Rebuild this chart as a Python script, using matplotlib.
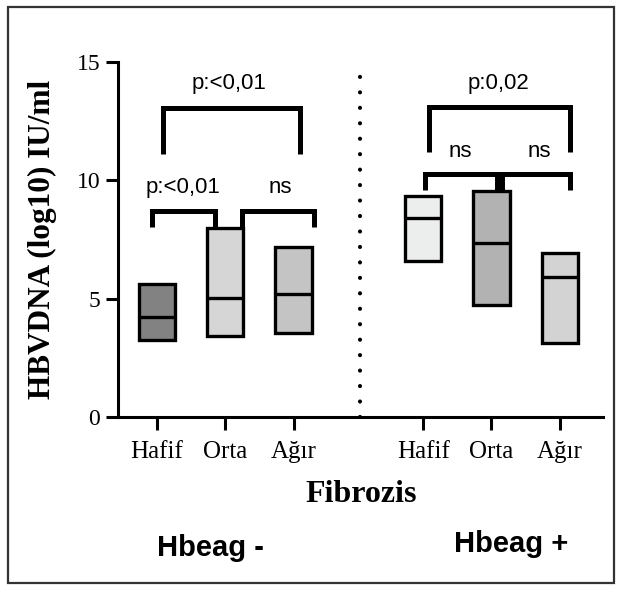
import matplotlib
matplotlib.use("Agg")
import matplotlib.pyplot as plt
from matplotlib.patches import Rectangle

# group positions on x axis (two panels separated by dotted line)
positions = [0, 1, 2, 3.9, 4.9, 5.9]
labels = ["Hafif", "Orta", "Ağır", "Hafif", "Orta", "Ağır"]
low = [3.26, 3.43, 3.56, 6.61, 4.75, 3.14]
median = [4.24, 5.04, 5.21, 8.43, 7.37, 5.93]
high = [5.64, 7.97, 7.2, 9.32, 9.53, 6.95]
fills = ["#828282", "#d6d6d6", "#c4c4c4", "#eceeed", "#b2b2b2", "#d3d3d3"]

# brackets: (x_left, x_right, y_bar, y_leg, text, text_x, text_y)
brackets = [
    (0.09, 2.1, 13.05, 11.1, "p:<0,01", 1.05, 14.1),
    (-0.07, 0.85, 8.69, 8.05, "p:<0,01", 0.38, 9.7),
    (1.25, 2.3, 8.69, 8.05, "ns", 1.8, 9.7),
    (3.98, 6.05, 13.1, 11.2, "p:0,02", 5.0, 14.1),
    (3.93, 4.98, 10.25, 9.6, "ns", 4.45, 11.2),
    (5.06, 6.05, 10.25, 9.6, "ns", 5.6, 11.2),
]

fig = plt.figure(figsize=(6.22, 5.91), dpi=100)
ax = fig.add_axes([0.19, 0.2944, 0.779, 0.6006])

ax.bar(positions, [h - l for h, l in zip(high, low)], bottom=low, width=0.53,
       color=fills, edgecolor="black", linewidth=2.4, zorder=3)
for p, m in zip(positions, median):
    ax.plot([p - 0.265, p + 0.265], [m, m], color="black", lw=2.4, zorder=4,
            solid_capstyle="butt")

for xl, xr, yb, yl, txt, tx, ty in brackets:
    ax.plot([xl, xl, xr, xr], [yl, yb, yb, yl], color="black", lw=3.6,
            solid_joinstyle="miter", solid_capstyle="butt", zorder=5)
    ax.text(tx, ty, txt, ha="center", va="center", fontsize=16,
            family="Liberation Sans")

# dotted separator
ax.plot([2.97, 2.97], [0, 15], color="black", lw=3, linestyle=(0, (0.01, 3.7)),
        dash_capstyle="round", zorder=2)

ax.set_xlim(-0.57, 6.53)
ax.set_ylim(0, 15)
ax.set_yticks([0, 5, 10, 15])
ax.set_xticks(positions)
ax.set_xticklabels(labels, family="Liberation Serif", fontsize=18)
for t in ax.get_yticklabels():
    t.set_family("Liberation Serif")
    t.set_fontsize(17)
ax.tick_params(width=2.2, length=9, direction="out", pad=4)
ax.tick_params(axis="x", pad=8)
for s in ["top", "right"]:
    ax.spines[s].set_visible(False)
for s in ["left", "bottom"]:
    ax.spines[s].set_linewidth(2.2)
ax.spines["left"].set_bounds(0, 15)

ax.set_ylabel("HBVDNA (log10) IU/ml", family="Liberation Serif", fontweight="bold",
              fontsize=22.5)
ax.yaxis.set_label_coords(-0.126, 0.5)

fig.text(0.580, 0.163, "Fibrozis", family="Liberation Serif", fontweight="bold",
         fontsize=23, ha="center", va="center")
fig.text(0.339, 0.073, "Hbeag -", family="Liberation Sans", fontweight="bold",
         fontsize=21, ha="center", va="center")
fig.text(0.822, 0.080, "Hbeag +", family="Liberation Sans", fontweight="bold",
         fontsize=21, ha="center", va="center")

fig.patches.append(Rectangle((0.013, 0.013), 0.974, 0.976, transform=fig.transFigure,
                             fill=False, edgecolor="#333333", linewidth=1.6))

fig.savefig("out.png", dpi=100)
